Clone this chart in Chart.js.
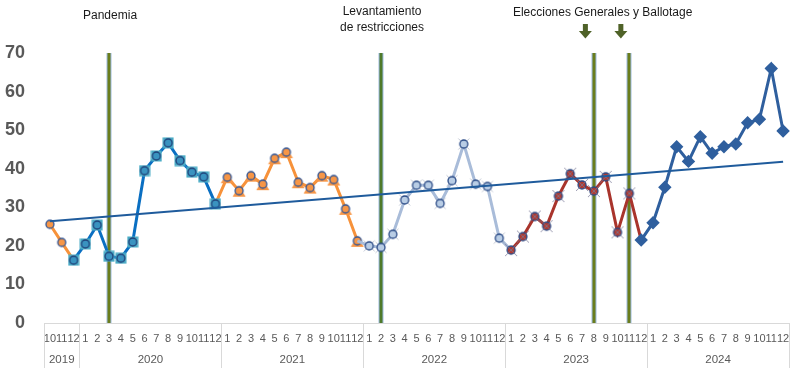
<!DOCTYPE html>
<html>
<head>
<meta charset="utf-8">
<script src="https://cdn.jsdelivr.net/npm/chart.js@4/dist/chart.umd.min.js"></script>
<style>
html,body{margin:0;padding:0;background:#fff;}
#wrap{width:800px;height:368px;position:relative;}
</style>
</head>
<body>
<div id="wrap"><canvas id="c" width="800" height="368"></canvas></div>
<script>
// ---- Data ----
const months = ['10','11','12',
  '1','2','3','4','5','6','7','8','9','10','11','12',
  '1','2','3','4','5','6','7','8','9','10','11','12',
  '1','2','3','4','5','6','7','8','9','10','11','12',
  '1','2','3','4','5','6','7','8','9','10','11','12',
  '1','2','3','4','5','6','7','8','9','10','11','12'];
const years = ['2019','2020','2021','2022','2023','2024'];
const yearStarts = [0, 3, 15, 27, 39, 51];
const values2019 = [25.6, 20.9, 16.3];
const values2020 = [20.5, 25.4, 17.3, 16.8, 21.0, 39.5, 43.3, 46.7, 42.1, 39.1, 37.9, 30.9];
const values2021 = [37.8, 34.3, 38.2, 36.0, 42.7, 44.3, 36.5, 35.1, 38.2, 37.2, 29.6, 21.3];
const values2022 = [20.0, 19.6, 23.0, 31.9, 35.7, 35.7, 31.0, 36.9, 46.4, 36.0, 35.4, 22.0];
const values2023 = [18.9, 22.4, 27.6, 25.1, 32.9, 38.7, 35.8, 34.2, 37.9, 23.5, 33.6, 21.5];
const values2024 = [26.0, 35.2, 45.7, 41.9, 48.3, 44.0, 45.7, 46.4, 51.9, 52.8, 66.0, 49.8];
const trendStart = 26.4, trendEnd = 41.8;
const eventIdx = {pandemia: 5, levantamiento: 28, generales: 46, ballotage: 49};
const yTicks = [0, 10, 20, 30, 40, 50, 60, 70];

const values = [].concat(values2019, values2020, values2021, values2022, values2023, values2024);
const N = months.length;

// ---- Markers ----
function mk(size, fn){ const c=document.createElement('canvas'); c.width=size; c.height=size; const g=c.getContext('2d'); fn(g,size/2); return c; }
const mOrange = mk(12,(g,c)=>{ g.beginPath(); g.arc(c,c,4,0,Math.PI*2); g.fillStyle='#f79646'; g.fill(); g.lineWidth=1.3; g.strokeStyle='#2f5597'; g.stroke(); });
const mOrangeTri = mk(16,(g,c)=>{ g.beginPath(); g.moveTo(c,c-5); g.lineTo(c+6.5,c+6); g.lineTo(c-6.5,c+6); g.closePath(); g.fillStyle='#f79646'; g.fill();
  g.beginPath(); g.arc(c,c,4,0,Math.PI*2); g.fillStyle='#f79646'; g.fill(); g.lineWidth=1.3; g.strokeStyle='#2f5597'; g.stroke(); });
const mCyan = mk(12,(g,c)=>{ g.fillStyle='#4bacc6'; g.fillRect(c-5.5,c-5.5,11,11); g.beginPath(); g.arc(c,c,4,0,Math.PI*2); g.fillStyle='#3a93c0'; g.fill(); g.lineWidth=1.3; g.strokeStyle='#1f3f77'; g.stroke(); });
const mLight = mk(14,(g,c)=>{ g.strokeStyle='rgba(140,150,175,0.7)'; g.lineWidth=0.8; g.beginPath(); g.moveTo(c-5.5,c-5.5); g.lineTo(c+5.5,c+5.5); g.moveTo(c+5.5,c-5.5); g.lineTo(c-5.5,c+5.5); g.stroke();
  g.beginPath(); g.arc(c,c,4,0,Math.PI*2); g.fillStyle='#b9cde5'; g.fill(); g.lineWidth=1.3; g.strokeStyle='#2a4a86'; g.stroke(); });
const mRed = mk(14,(g,c)=>{ g.beginPath(); g.arc(c,c,4,0,Math.PI*2); g.fillStyle='#b13a30'; g.fill(); g.lineWidth=1.3; g.strokeStyle='#2a4a86'; g.stroke();
  g.strokeStyle='rgba(120,120,150,0.85)'; g.lineWidth=0.9; g.beginPath(); g.moveTo(c-6,c-6); g.lineTo(c+6,c+6); g.moveTo(c+6,c-6); g.lineTo(c-6,c+6); g.stroke(); });

function seg(start, end){ return values.map((v,i)=> (i>=start && i<=end) ? v : null); }
function radiusFor(ms, me, r){ return ctx => (ctx.dataIndex>=ms && ctx.dataIndex<=me) ? (r||5) : 0; }

const trendData = new Array(N).fill(null); trendData[0]=trendStart; trendData[N-1]=trendEnd;

const datasets = [
  {data: trendData, borderColor:'#1f5b9c', borderWidth:2, pointRadius:0, spanGaps:true, order:0},
  {data: seg(50,62), borderColor:'#2f5f9e', borderWidth:3, pointStyle:'rectRot', pointRadius:radiusFor(50,62,4.6), pointBackgroundColor:'#2f5f9e', pointBorderColor:'#2f5f9e', order:2},
  {data: seg(39,50), borderColor:'#a9342c', borderWidth:3, pointStyle:mRed, pointRadius:radiusFor(39,49), order:3},
  {data: seg(26,39), borderColor:'#a9bcd9', borderWidth:3, pointStyle:mLight, pointRadius:radiusFor(27,38), order:4},
  {data: seg(14,26), borderColor:'#f7923a', borderWidth:3, pointStyle:mOrangeTri, pointRadius:radiusFor(15,26), order:5},
  {data: seg(2,14), borderColor:'#0a6fc2', borderWidth:3, pointStyle:mCyan, pointRadius:radiusFor(2,14), order:1},
  {data: seg(0,2), borderColor:'#f7923a', borderWidth:3, pointStyle:mOrange, pointRadius:radiusFor(0,1), order:6}
];

const FONT = '"Liberation Sans", Arial, sans-serif';

const decor = {
  id:'decor',
  beforeDatasetsDraw(chart){
    const g=chart.ctx, x=chart.scales.x, a=chart.chartArea;
    g.save();
    [eventIdx.pandemia, eventIdx.levantamiento, eventIdx.generales, eventIdx.ballotage].forEach(i=>{
      const px=Math.round(x.getPixelForValue(i));
      g.fillStyle='#9dbbe0'; g.fillRect(px-2.5, a.top, 5, a.bottom-a.top);
      g.fillStyle= i===eventIdx.levantamiento ? '#4f7a2a' : '#6a7d1c';
      g.fillRect(px-1.5, a.top, 3, a.bottom-a.top);
    });
    g.restore();
  },
  afterDraw(chart){
    const g=chart.ctx, x=chart.scales.x, a=chart.chartArea;
    const cw = (a.right-a.left)/N;
    g.save();
    g.strokeStyle='#d9d9d9'; g.lineWidth=1;
    const edges = yearStarts.concat([N]);
    edges.forEach(i=>{ const px=Math.round(a.left + i*cw)+0.5; g.beginPath(); g.moveTo(px,a.bottom); g.lineTo(px,368); g.stroke(); });
    g.fillStyle='#595959'; g.font='11.5px '+FONT; g.textAlign='center'; g.textBaseline='middle';
    years.forEach((y,k)=>{ const s=edges[k], e=edges[k+1]; g.fillText(y, a.left+(s+e)/2*cw, 360); });
    g.fillStyle='#1a1a1a'; g.font='12px '+FONT;
    g.fillText('Pandemia', x.getPixelForValue(eventIdx.pandemia)+1, 16);
    g.fillText('Levantamiento', x.getPixelForValue(eventIdx.levantamiento)+1, 12);
    g.fillText('de restricciones', x.getPixelForValue(eventIdx.levantamiento)+1, 28);
    const gx = x.getPixelForValue(eventIdx.generales), bx = x.getPixelForValue(eventIdx.ballotage);
    g.fillText('Elecciones Generales y Ballotage', (gx+bx)/2-9, 13);
    g.fillStyle='#4f6228';
    [gx, bx].forEach(px=>{
      const cx = px-8.5;
      g.fillRect(cx-2.5, 24, 5, 8);
      g.beginPath(); g.moveTo(cx-6.5,31); g.lineTo(cx+6.5,31); g.lineTo(cx,38.5); g.closePath(); g.fill();
    });
    g.restore();
  }
};

new Chart(document.getElementById('c'), {
  type:'line',
  data:{labels: months, datasets},
  options:{
    responsive:false, animation:false,
    layout:{padding:{left:0, right:11, top:53, bottom:0}},
    plugins:{legend:{display:false}, tooltip:{enabled:false}},
    elements:{line:{tension:0}},
    scales:{
      x:{offset:true, grid:{display:false, drawTicks:false}, border:{display:true, color:'#d9d9d9'},
        ticks:{autoSkip:false, maxRotation:0, minRotation:0, padding:9, color:'#595959', font:{family:FONT, size:11}},
        afterFit(s){ s.height=45; }},
      y:{min:0, max:70, grid:{display:false, drawTicks:false}, border:{display:false},
        afterBuildTicks(s){ s.ticks = yTicks.map(v=>({value:v})); },
        ticks:{padding:19, color:'#595959', font:{family:FONT, size:18, weight:'bold'}},
        afterFit(s){ s.width=44; }}
    }
  },
  plugins:[decor]
});
</script>
</body>
</html>
